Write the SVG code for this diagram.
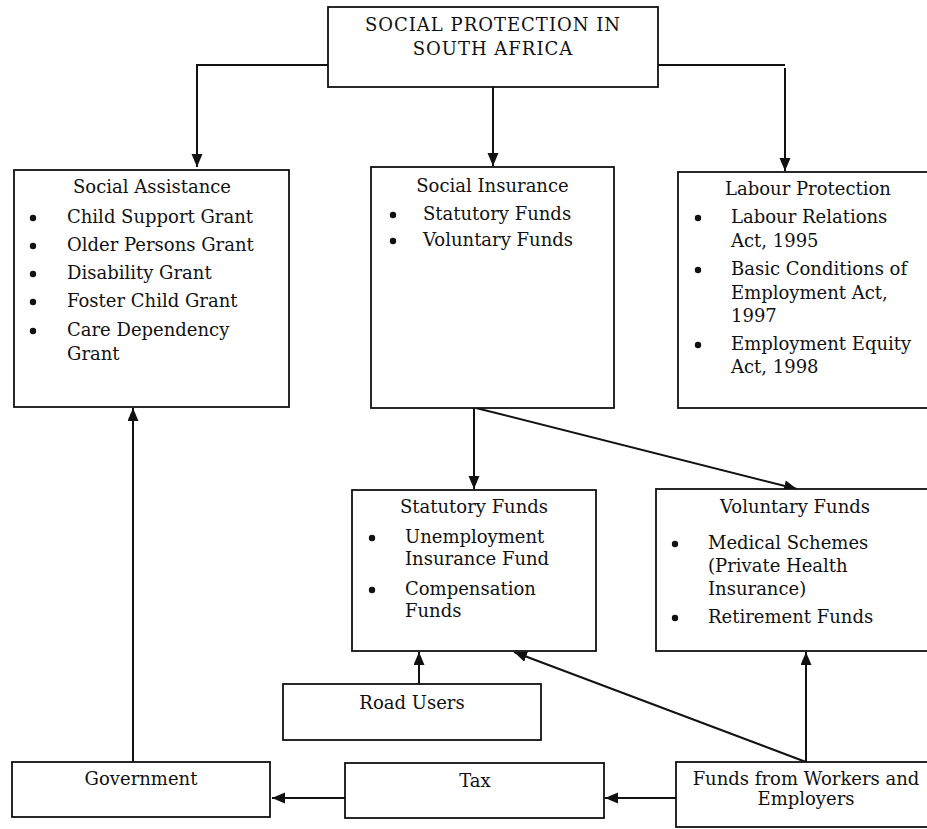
<svg xmlns="http://www.w3.org/2000/svg" width="927" height="829" viewBox="0 0 927 829">
  <style>
    .box { fill: #ffffff; stroke: #111111; stroke-width: 1.8; }
    .conn { fill: none; stroke: #111111; stroke-width: 2; }
    .t { font-family: "DejaVu Serif", "Liberation Serif", serif; font-size: 18px; fill: #111111; }
    .c { text-anchor: middle; }
    .caps { letter-spacing: 1px; }
    .dot { fill: #111111; }
  </style>
  <defs>
    <marker id="arrow" markerUnits="userSpaceOnUse" markerWidth="14" markerHeight="12" refX="13" refY="5.5" orient="auto">
      <path d="M0,0 L13,5.5 L0,11 Z" fill="#111111"/>
    </marker>
  </defs>
  <rect width="927" height="829" fill="#ffffff"/>

  <!-- connectors -->
  <g id="connectors">
    <polyline class="conn" points="328,65 197,65 197,167" marker-end="url(#arrow)"/>
    <line class="conn" x1="493" y1="87" x2="493" y2="166" marker-end="url(#arrow)"/>
    <line class="conn" x1="658" y1="65" x2="785" y2="65"/>
    <line class="conn" x1="785" y1="68" x2="785" y2="171" marker-end="url(#arrow)"/>
    <line class="conn" x1="474" y1="408" x2="474" y2="489" marker-end="url(#arrow)"/>
    <line class="conn" x1="476" y1="408" x2="797" y2="489" marker-end="url(#arrow)"/>
    <line class="conn" x1="419" y1="684" x2="419" y2="652" marker-end="url(#arrow)"/>
    <line class="conn" x1="806" y1="762" x2="514" y2="652" marker-end="url(#arrow)"/>
    <line class="conn" x1="806" y1="762" x2="806" y2="652" marker-end="url(#arrow)"/>
    <line class="conn" x1="676" y1="798" x2="605" y2="798" marker-end="url(#arrow)"/>
    <line class="conn" x1="345" y1="798" x2="272" y2="798" marker-end="url(#arrow)"/>
    <line class="conn" x1="133" y1="762" x2="133" y2="408" marker-end="url(#arrow)"/>
  </g>

  <!-- root -->
  <g id="social-protection">
    <rect class="box" x="328" y="7" width="330" height="80"/>
    <text class="t c caps" x="493" y="31">SOCIAL PROTECTION IN</text>
    <text class="t c caps" x="493" y="55">SOUTH AFRICA</text>
  </g>

  <g id="social-assistance">
    <rect class="box" x="14" y="170" width="275" height="237"/>
    <text class="t c" x="152" y="193">Social Assistance</text>
    <circle class="dot" cx="33" cy="218" r="3.2"/>
    <text class="t" x="67" y="223">Child Support Grant</text>
    <circle class="dot" cx="33" cy="246" r="3.2"/>
    <text class="t" x="67" y="251">Older Persons Grant</text>
    <circle class="dot" cx="33" cy="274" r="3.2"/>
    <text class="t" x="67" y="279">Disability Grant</text>
    <circle class="dot" cx="33" cy="302" r="3.2"/>
    <text class="t" x="67" y="307">Foster Child Grant</text>
    <circle class="dot" cx="33" cy="331" r="3.2"/>
    <text class="t" x="67" y="336">Care Dependency</text>
    <text class="t" x="67" y="360">Grant</text>
  </g>

  <g id="social-insurance">
    <rect class="box" x="371" y="167" width="243" height="241"/>
    <text class="t c" x="492.5" y="192">Social Insurance</text>
    <circle class="dot" cx="393" cy="215" r="3.2"/>
    <text class="t" x="423" y="220">Statutory Funds</text>
    <circle class="dot" cx="393" cy="241" r="3.2"/>
    <text class="t" x="423" y="246">Voluntary Funds</text>
  </g>

  <g id="labour-protection">
    <rect class="box" x="678" y="172" width="262" height="236"/>
    <text class="t c" x="808" y="195">Labour Protection</text>
    <circle class="dot" cx="698" cy="218" r="3.2"/>
    <text class="t" x="731" y="223">Labour Relations</text>
    <text class="t" x="731" y="247">Act, 1995</text>
    <circle class="dot" cx="698" cy="270" r="3.2"/>
    <text class="t" x="731" y="275">Basic Conditions of</text>
    <text class="t" x="731" y="299">Employment Act,</text>
    <text class="t" x="731" y="322">1997</text>
    <circle class="dot" cx="698" cy="345" r="3.2"/>
    <text class="t" x="731" y="350">Employment Equity</text>
    <text class="t" x="731" y="373">Act, 1998</text>
  </g>

  <g id="statutory-funds">
    <rect class="box" x="352" y="490" width="244" height="161"/>
    <text class="t c" x="474" y="513">Statutory Funds</text>
    <circle class="dot" cx="372" cy="538" r="3.2"/>
    <text class="t" x="405" y="543">Unemployment</text>
    <text class="t" x="405" y="565">Insurance Fund</text>
    <circle class="dot" cx="372" cy="590" r="3.2"/>
    <text class="t" x="405" y="595">Compensation</text>
    <text class="t" x="405" y="617">Funds</text>
  </g>

  <g id="voluntary-funds">
    <rect class="box" x="656" y="489" width="280" height="162"/>
    <text class="t c" x="795" y="513">Voluntary Funds</text>
    <circle class="dot" cx="675" cy="544" r="3.2"/>
    <text class="t" x="708" y="549">Medical Schemes</text>
    <text class="t" x="708" y="572">(Private Health</text>
    <text class="t" x="708" y="595">Insurance)</text>
    <circle class="dot" cx="675" cy="618" r="3.2"/>
    <text class="t" x="708" y="623">Retirement Funds</text>
  </g>

  <g id="road-users">
    <rect class="box" x="283" y="684" width="258" height="56"/>
    <text class="t c" x="412" y="709">Road Users</text>
  </g>

  <g id="government">
    <rect class="box" x="12" y="762" width="258" height="55"/>
    <text class="t c" x="141" y="785">Government</text>
  </g>

  <g id="tax">
    <rect class="box" x="345" y="763" width="259" height="55"/>
    <text class="t c" x="475" y="787">Tax</text>
  </g>

  <g id="workers-employers">
    <rect class="box" x="676" y="762" width="260" height="65"/>
    <text class="t c" x="806" y="785">Funds from Workers and</text>
    <text class="t c" x="806" y="805">Employers</text>
  </g>
</svg>
